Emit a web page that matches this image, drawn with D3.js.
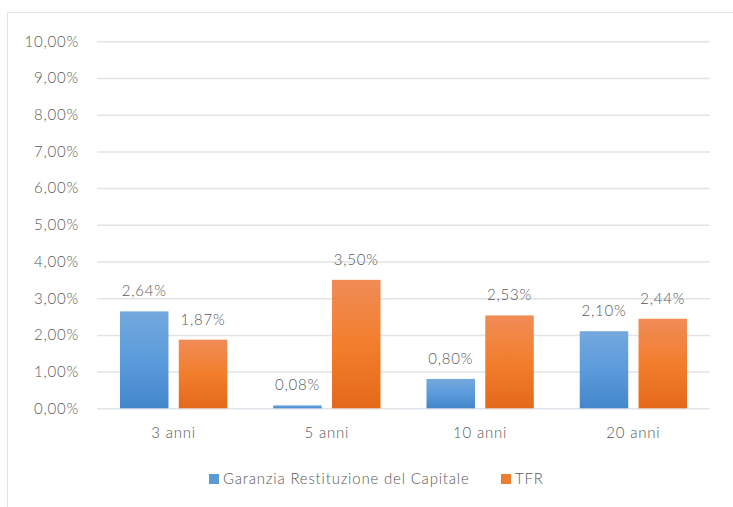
<!DOCTYPE html>
<html><head><meta charset="utf-8">
<script src="https://cdn.jsdelivr.net/npm/d3@7/dist/d3.min.js"></script>
<style>
html,body{margin:0;padding:0;background:#fff;}
svg{display:block;}
text{font-family:"Lato","Open Sans",sans-serif;fill:#595959;font-weight:300;}
</style></head>
<body>
<svg id="chart" width="733" height="507"></svg>
<script>
const categories = ["3 anni","5 anni","10 anni","20 anni"];
const seriesNames = ["Garanzia Restituzione del Capitale","TFR"];
const garanzia = [2.64, 0.08, 0.80, 2.10];
const tfr = [1.87, 3.50, 2.53, 2.44];
const yTicks = [0,1,2,3,4,5,6,7,8,9,10];
const valueLabels = [["2,64%","0,08%","0,80%","2,10%"],["1,87%","3,50%","2,53%","2,44%"]];

const svg = d3.select("#chart");
const W = 733, H = 507;
const plot = {left: 97, right: 710, top: 41.3, bottom: 408.3};
const LS = "0.8px";

// chart border
svg.append("path").attr("d", `M7.5,${H} L7.5,12.5 L${W},12.5`)
  .attr("fill","none").attr("stroke","#dfe3e8").attr("stroke-width",1);

const defs = svg.append("defs");
function grad(id, c1, c2, c3){
  const g = defs.append("linearGradient").attr("id",id).attr("x1",0).attr("y1",0).attr("x2",0).attr("y2",1);
  g.append("stop").attr("offset","0%").attr("stop-color",c1);
  g.append("stop").attr("offset","50%").attr("stop-color",c2);
  g.append("stop").attr("offset","100%").attr("stop-color",c3);
}
grad("gBlue","#73a8dd","#5b9bdb","#4386cb");
grad("gOrange","#f08c57","#f27e2c","#e4691b");
const fills = ["url(#gBlue)","url(#gOrange)"];
const legendFills = ["#5b9bd5","#ed7d31"];

const y = d3.scaleLinear().domain([0,10]).range([plot.bottom, plot.top]);
const x0 = d3.scaleBand().domain(categories).range([plot.left, plot.right]).paddingInner(0.3).paddingOuter(0.15);
const x1 = d3.scaleBand().domain(seriesNames).range([0, x0.bandwidth()]).paddingInner(0.175);

// gridlines
const yAxis = d3.axisLeft(y).tickValues(yTicks).tickSize(-(plot.right-plot.left)).tickPadding(18)
  .tickFormat(d => d3.format(".2f")(d).replace(".", ",") + "%");
const ga = svg.append("g").attr("transform",`translate(${plot.left},0)`).call(yAxis);
ga.select(".domain").remove();
ga.selectAll(".tick line").attr("stroke","#e1e4e9").attr("stroke-width",1.5);
ga.selectAll(".tick text").attr("font-size",15).attr("fill","#595959").attr("letter-spacing",LS);

// bars
const data = [garanzia, tfr];
const groups = svg.append("g").selectAll("g").data(categories).join("g")
  .attr("transform", d => `translate(${x0(d)},0)`);
groups.each(function(cat, ci){
  const g = d3.select(this);
  seriesNames.forEach((s, si) => {
    const v = data[si][ci];
    g.append("rect").attr("x", x1(s)).attr("y", y(v)).attr("width", x1.bandwidth())
      .attr("height", y(0)-y(v)).attr("fill", fills[si]);
    g.append("text").attr("x", x1(s)+x1.bandwidth()/2).attr("y", y(v)-15)
      .attr("text-anchor","middle").attr("font-size",15).attr("letter-spacing",LS)
      .text(valueLabels[si][ci]);
  });
});

// x labels
const xAxis = d3.axisBottom(x0).tickSize(0).tickPadding(19);
const gx = svg.append("g").attr("transform",`translate(0,${plot.bottom})`).call(xAxis);
gx.select(".domain").remove();
gx.selectAll(".tick text").attr("font-size",15).attr("fill","#595959").attr("letter-spacing",LS);

// legend
const legend = svg.append("g");
const legItems = [{name: seriesNames[0], x: 209}, {name: seriesNames[1], x: 501}];
legItems.forEach((it, i) => {
  legend.append("rect").attr("x", it.x).attr("y", 474).attr("width", 10).attr("height", 10).attr("fill", legendFills[i]);
  legend.append("text").attr("x", it.x+14).attr("y", 484).attr("font-size",15).attr("letter-spacing",LS).text(it.name);
});
</script>
</body></html>
